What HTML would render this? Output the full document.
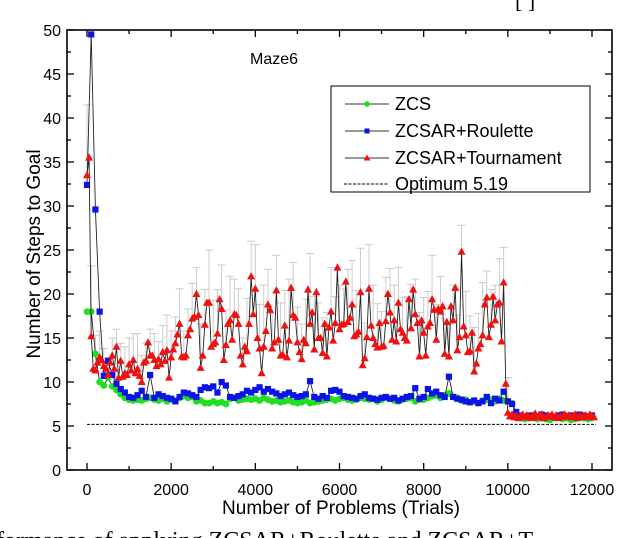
<!DOCTYPE html>
<html><head><meta charset="utf-8">
<style>
html,body{margin:0;padding:0;background:#fff;}
svg{display:block;font-family:"Liberation Sans",sans-serif;}
</style></head>
<body>
<svg id="chart" width="640" height="538" viewBox="0 0 640 538" xmlns="http://www.w3.org/2000/svg">
<text x="515" y="8" font-family="Liberation Serif, serif" font-size="22">[    ]</text>
<text x="-4" y="548" font-family="Liberation Serif, serif" font-size="24">formance of applying ZCSAR+Roulette and ZCSAR+T</text>
<g id="plot"></g>
</svg>
<script>
const redY=[33.5,35.5,15.2,11.5,11.3,12.2,12.8,12.5,11.8,11.5,10.8,12.2,13,11.5,14,10.5,12.4,10.6,11,10.8,12,11.3,12.5,11,11.5,10.7,10,12.2,12.4,14.5,13,13,12.5,11.8,12.6,12,13.4,12.4,13.6,10.5,12.8,13.7,14.4,15.4,16.6,12.9,12.8,13,15.3,16,17.2,17.4,20,17.6,11.6,13,16.5,19,19,14,14.3,14.5,15.5,19.4,18.3,12.5,14.2,16.6,17,14.8,17.7,17.6,16.6,13,12,14,13.5,16.6,22,17.7,20.6,15,13.8,11,14,15.8,18.8,18.2,13.8,14.5,20.4,14.8,13,13.1,16.4,12.8,14.7,20.7,17.6,17.3,14.5,13.4,12.6,14.8,14.4,20.5,16.6,17.9,13.7,20.2,15,15,13.3,16.6,12.9,16.2,18,14.7,16.7,23,16,16.5,16.6,21.4,16.8,17.3,18.8,15.2,15.4,15.7,20.2,11.9,12.7,15.1,20.6,16.4,15,14.3,13.9,16.7,14,14.1,16.9,20,17.9,14.8,17,14.6,19,16,15.6,15,14.7,19.4,16.1,20.5,17.7,16.7,12.9,17,15.6,13,16.3,16.7,19.4,18.2,14.8,18.3,18,18.6,13.2,16.8,12.9,18.6,17,20.7,13.6,15.1,24.8,16.3,15.3,13.4,13.5,15.6,11.2,12.1,13.8,14.3,15.3,18.8,19.6,15.1,16.5,19.7,17,18.8,19,14.6,21.3,9.8,6.5,6.1,6.3,6.0,6.2,5.9,6.1,6.3,6.0,6.2,6.1,5.9,6.2,6.4,6.0,6.1,6.3,5.9,6.0,6.2,6.1,6.3,6.0,6.2,5.9,6.1,6.0,6.3,6.1,6.2,6.0,6.1,6.3,5.9,6.2,6.0,6.1,6.2,6.0,6.3,6.1,6.0];
const redErr=[8,8,4,3,2,2,2,2,2,3,3,3,4,3,2,3,3,2,3,4,3,3,4,3,3,4,3,5,4,6,5,5,5,4,5,4,4,3,6,4,5,5,7,4,4,4,6,4,7,6,4,4,5,8,6,4,4,5,5,3,5,4,6,5,5,5,4,5,6,5,4,5,5,4,4,4,5,5,4,5,4,4,5,4,4,4,4,4,4,3,5,4,5,4,6,3,4,4,5,4,4];
const blueY=[32.4,49.5,29.6,18,10.7,12.4,10.8,9.8,9.2,8.8,8.3,8.2,8.5,9,8.3,10.8,8.2,8.6,8.4,8.2,8.1,7.8,8.3,8.8,8.7,8.5,8.3,9.1,9.4,9.3,9.5,8.8,10,9.6,8.3,8.2,8.4,8.6,9,8.8,9.1,9.4,8.9,9.2,8.9,8.7,8.4,8.6,8.8,8.5,8.3,8.4,8.6,10.1,8.3,8.1,8.4,8.2,9,9.1,8.9,8.4,8.3,8.2,8.1,8.4,8.6,8.2,8.1,8,8.2,8.3,8.1,8.2,7.9,8.1,8.3,8.4,9.3,8.1,8.3,9.2,8.7,8.9,8.5,8.3,10.6,8.3,8.1,8,7.8,7.7,7.9,7.6,7.8,8.3,7.6,8.1,7.9,8.9,7.8,7.5,6.6,6.2,6.1,6.2,6.0,6.1,6.3,6.2,6.1,6.0,6.2,6.3,6.1,6.2,6.0,6.3,6.2,6.1,6.2];
const greenY=[18,18,13.2,10,9.6,10.5,9.5,9.1,8.6,8.2,8,7.9,8,7.9,8.1,8.2,8,7.9,8.1,7.8,8,7.9,8.2,8.4,8.2,8.3,7.8,7.9,7.6,7.6,7.8,7.6,7.7,7.5,8.1,8.2,7.9,8,8.1,8,8.1,7.9,8.2,8,7.8,7.9,7.7,7.8,7.9,7.7,7.6,7.7,7.9,7.6,7.7,7.8,7.9,8,8.1,7.9,8.1,8.2,8,7.9,8,8.2,8.1,8,8.1,7.8,8,8.2,8.1,7.9,7.8,8,8.1,8.2,7.8,8,8,8.2,8.4,8.5,8.2,8.5,8.7,8.3,8.2,7.9,8,7.7,7.8,7.6,7.9,8,8,7.8,8.1,7.9,7.8,7.6,6.2,5.9,5.8,5.9,6.0,5.8,5.9,5.8,5.7,5.9,6.0,5.8,5.9,5.7,5.8,6.0,5.9,5.8,5.9];
const xTicks=[0,2000,4000,6000,8000,10000,12000];
const yTicks=[0,5,10,15,20,25,30,35,40,45,50];
const optimum=[5.19];
const redStep=[50], otherStep=[100];

const NS="http://www.w3.org/2000/svg";
const L=67,R=612,T=30,B=470;
const X=v=>87+v*(592-87)/12000;
const Y=v=>B-v*(B-T)/50;
const g=document.getElementById('plot');
function mk(tag,attrs,parent){const e=document.createElementNS(NS,tag);for(const k in attrs)e.setAttribute(k,attrs[k]);(parent||g).appendChild(e);return e;}

const eg=mk('g',{});


redErr.forEach((e,i)=>{const x=X(i*2*redStep[0]),y=redY[i*2];
 mk('line',{x1:x,x2:x,y1:Y(y),y2:Y(y+e),stroke:'#ccc','stroke-width':1},eg);
 mk('line',{x1:x-4,x2:x+4,y1:Y(y+e),y2:Y(y+e),stroke:'#ccc','stroke-width':1},eg);});

const ol=mk('line',{x1:X(0),x2:X(12100),y1:Y(optimum[0]),y2:Y(optimum[0]),stroke:'#000','stroke-width':1,'stroke-dasharray':'3,1.5'});



function series(vals,step,color,shape,name){
 const sg=mk('g',{});
 
 
 const pts=vals.map((v,i)=>X(i*step)+','+Y(v)).join(' ');
 mk('polyline',{points:pts,fill:'none',stroke:'#222','stroke-width':0.9},sg);
 vals.forEach((v,i)=>{const x=X(i*step),y=Y(v);let m;
  if(shape==='c')m=mk('circle',{cx:x,cy:y,r:3.4,fill:color},sg);
  else if(shape==='s')m=mk('rect',{x:x-3.1,y:y-3.1,width:6.2,height:6.2,fill:color},sg);
  else m=mk('polygon',{points:`${x},${y-4.3} ${x-4},${y+3} ${x+4},${y+3}`,fill:color},sg);
  
  });
}
series(greenY,otherStep[0],'#1fe01f','c','zcs-series');
series(blueY,otherStep[0],'#0a14e6','s','roulette-series');
series(redY,redStep[0],'#f01010','t','tournament-series');

const fr=mk('rect',{x:L,y:T,width:R-L,height:B-T,fill:'none',stroke:'#000','stroke-width':1.6});


for(let v=0;v<=12000;v+=1000){const x=X(v),len=v%2000===0?7:4;
 mk('line',{x1:x,x2:x,y1:B,y2:B-len,stroke:'#000','stroke-width':1.3});
 mk('line',{x1:x,x2:x,y1:T,y2:T+len,stroke:'#000','stroke-width':1.3});}
for(let v=0;v<=50;v+=2.5){const y=Y(v),len=v%5===0?7:4;
 mk('line',{x1:L,x2:L+len,y1:y,y2:y,stroke:'#000','stroke-width':1.3});
 mk('line',{x1:R,x2:R-len,y1:y,y2:y,stroke:'#000','stroke-width':1.3});}
xTicks.forEach(v=>{const t=mk('text',{x:X(v),y:B+25,'text-anchor':'middle','font-size':16});t.textContent=v;
 
 });
yTicks.forEach(v=>{const t=mk('text',{x:L-6,y:Y(v)+6,'text-anchor':'end','font-size':16});t.textContent=v;
 
 });
const xt=mk('text',{x:341,y:514,'text-anchor':'middle','font-size':19});xt.textContent='Number of Problems (Trials)';


const yt=mk('text',{transform:'translate(40,254) rotate(-90)','text-anchor':'middle','font-size':19});yt.textContent='Number of Steps to Goal';


const mz=mk('text',{x:250,y:64,'font-size':16});mz.textContent='Maze6';



const lg=mk('g',{});


mk('rect',{x:331,y:86,width:259,height:106,fill:'#fff',stroke:'#000','stroke-width':1},lg);
const items=[['ZCS','#1fe01f','c',104],['ZCSAR+Roulette','#0a14e6','s',131],['ZCSAR+Tournament','#f01010','t',158],['Optimum 5.19','#000','d',184]];
items.forEach(([lab,c,sh,y])=>{
 const eg2=mk('g',{},lg);
 
 
 if(sh==='d')mk('line',{x1:344,x2:389,y1:y,y2:y,stroke:'#000','stroke-width':1,'stroke-dasharray':'3,1.5'},eg2);
 else{mk('line',{x1:345,x2:389,y1:y,y2:y,stroke:'#333','stroke-width':1},eg2);
  if(sh==='c')mk('circle',{cx:367,cy:y,r:2.8,fill:c},eg2);
  else if(sh==='s')mk('rect',{x:364.5,y:y-2.5,width:5,height:5,fill:c},eg2);
  else mk('polygon',{points:`367,${y-3.5} 363.6,${y+2.5} 370.4,${y+2.5}`,fill:c},eg2);}
 const t=mk('text',{x:395,y:y+6,'font-size':18},eg2);t.textContent=lab;});
</script>
</body></html>
